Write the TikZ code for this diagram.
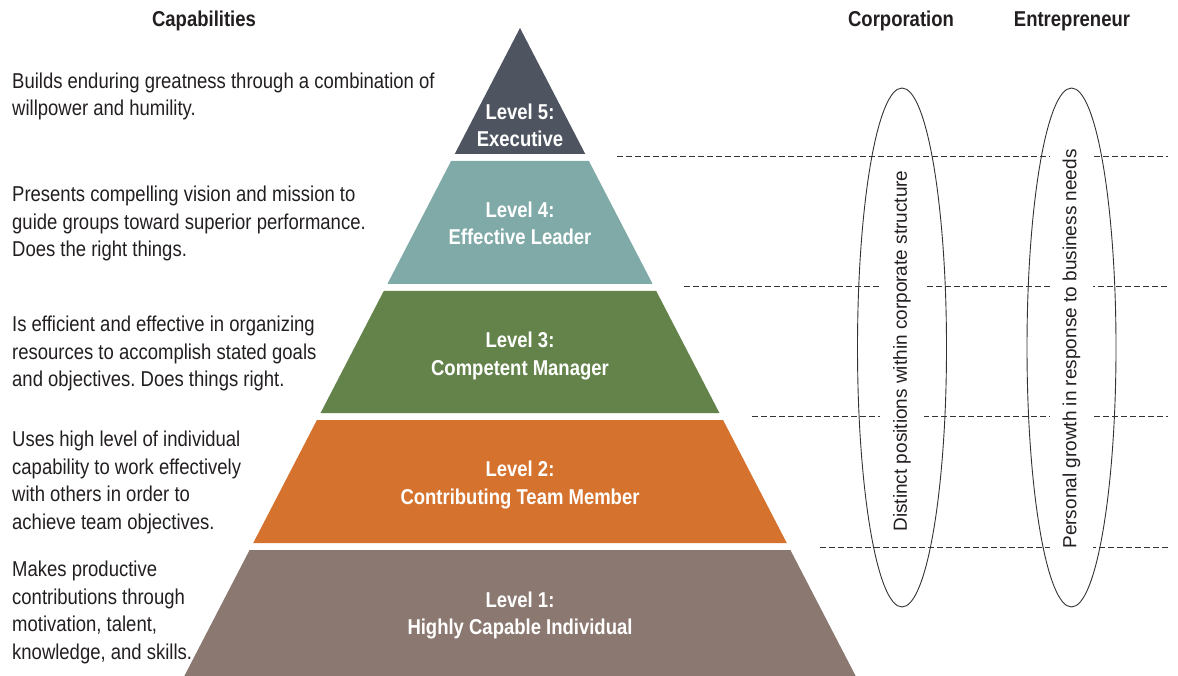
\documentclass[tikz,border=0pt]{standalone}
\usepackage{fontspec}
\setmainfont{Liberation Sans}[FakeStretch=0.86]
\newfontfamily\rotfont{Liberation Sans}
\usetikzlibrary{shapes.geometric}
\definecolor{txt}{HTML}{231F20}
\definecolor{cfive}{HTML}{4E5560}
\definecolor{cfour}{HTML}{7FAAA7}
\definecolor{cthree}{HTML}{64834B}
\definecolor{ctwo}{HTML}{D5722D}
\definecolor{cone}{HTML}{8B7870}
\definecolor{lne}{HTML}{333333}
\frenchspacing
\begin{document}
\begin{tikzpicture}[x=1pt,y=-1pt,
  desc/.style={anchor=north west, inner sep=0pt, align=left, text=txt,
    font=\fontsize{21.5}{27.5}\selectfont},
  lvl/.style={anchor=north, inner sep=0pt, align=center, text=white,
    font=\bfseries\fontsize{21.5}{27.4}\selectfont},
  head/.style={anchor=base, inner sep=0pt, text=txt,
    font=\bfseries\fontsize{21.5}{26}\selectfont},
  sep/.style={draw=lne, line width=1pt, dash pattern=on 5.5pt off 3.5pt},
  rotlab/.style={rotate=90, fill=white, text=txt, inner xsep=1.5pt, inner ysep=13pt,
    font=\rotfont\fontsize{19}{22}\selectfont},
  oval/.style={draw=lne, line width=0.9pt, ellipse, inner sep=0pt,
    minimum width=89pt, minimum height=519pt}
]
\useasboundingbox (0,0) rectangle (1178,676);
% pyramid bands
\fill[cfive] (520,28) -- ({520+0.518*(154-28)},154) -- ({520-0.518*(154-28)},154) -- cycle;
\fill[cfour] ({520-0.518*(161-28)},161) -- ({520+0.518*(161-28)},161) -- ({520+0.518*(284-28)},284) -- ({520-0.518*(284-28)},284) -- cycle;
\fill[cthree] ({520-0.518*(291-28)},291) -- ({520+0.518*(291-28)},291) -- ({520+0.518*(413-28)},413) -- ({520-0.518*(413-28)},413) -- cycle;
\fill[ctwo] ({520-0.518*(420-28)},420) -- ({520+0.518*(420-28)},420) -- ({520+0.518*(543-28)},543) -- ({520-0.518*(543-28)},543) -- cycle;
\fill[cone] ({520-0.518*(550-28)},550) -- ({520+0.518*(550-28)},550) -- ({520+0.518*(676-28)},676) -- ({520-0.518*(676-28)},676) -- cycle;
% level labels
\node[lvl] (l5) at (520,{119.3-19.18}) {\strut Level 5:\\Executive};
\node[lvl] (l4) at (520,{217.3-19.18}) {\strut Level 4:\\Effective Leader};
\node[lvl] (l3) at (520,{347.5-19.18}) {\strut Level 3:\\Competent Manager};
\node[lvl] (l2) at (520,{476.5-19.18}) {\strut Level 2:\\Contributing Team Member};
\node[lvl] (l1) at (520,{607-19.18}) {\strut Level 1:\\Highly Capable Individual};
% headers
\node[head] (hcap) at (204,26.7) {Capabilities};
\node[head] (hcorp) at (901,27) {Corporation};
\node[head] (hent) at (1072,27) {Entrepreneur};
% descriptions
\node[desc] (d5) at (12,{88-19.25}) {\strut Builds enduring greatness through a combination of\\willpower and humility.};
\node[desc] (d4) at (12,{201.7-19.25}) {\strut Presents compelling vision and mission to\\guide groups toward superior performance.\\Does the right things.};
\node[desc] (d3) at (12,{331.7-19.25}) {\strut Is efficient and effective in organizing\\resources to accomplish stated goals\\and objectives. Does things right.};
\node[desc] (d2) at (12,{446.7-19.25}) {\strut Uses high level of individual\\capability to work effectively\\with others in order to\\achieve team objectives.};
\node[desc] (d1) at (12,{576.7-19.25}) {\strut Makes productive\\contributions through\\motivation, talent,\\knowledge, and skills.};
% dashed separators
\coordinate (s1a) at (617,157); \coordinate (s1b) at (1168,157);
\coordinate (s2a) at (684,287); \coordinate (s2b) at (1168,287);
\coordinate (s3a) at (752,416); \coordinate (s3b) at (1168,416);
\coordinate (s4a) at (820,547); \coordinate (s4b) at (1168,547);
\draw[sep] (s1a) -- (s1b);
\draw[sep] (s2a) -- (s2b);
\draw[sep] (s3a) -- (s3b);
\draw[sep] (s4a) -- (s4b);
% rotated labels
\node[rotlab] (tcorp) at (902,351) {Distinct positions within corporate structure};
\node[rotlab] (tent) at (1071.5,349) {Personal growth in response to business needs};
% ovals
\node[oval] (ocorp) at (902,347.5) {};
\node[oval] (oent) at (1071.5,347.5) {};
\end{tikzpicture}
\end{document}
